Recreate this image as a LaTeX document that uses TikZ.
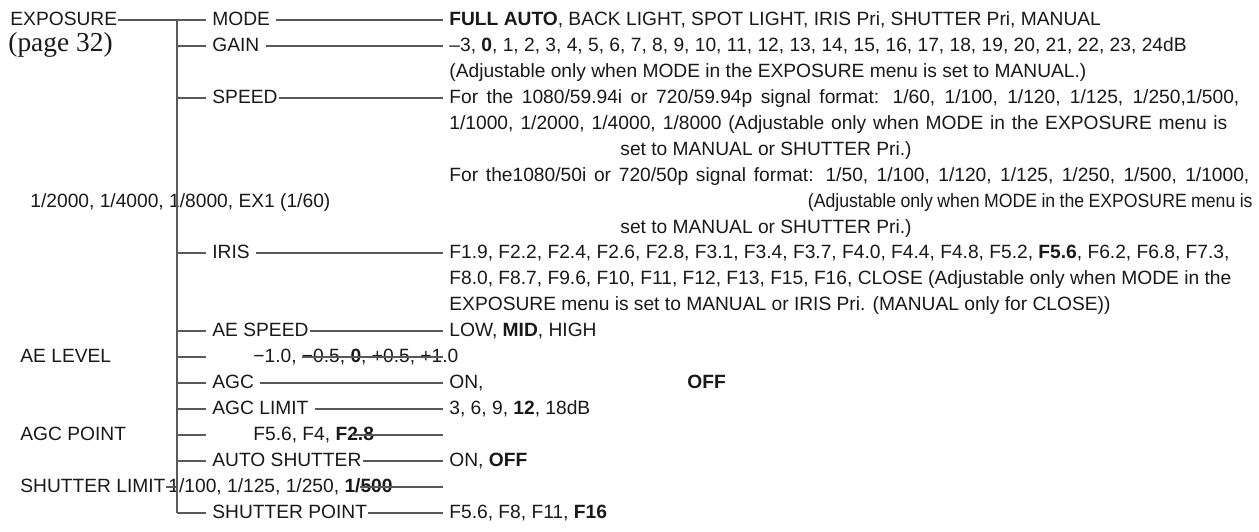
\documentclass[tikz,border=0pt]{standalone}
\usepackage{fontspec}
\setmainfont{Liberation Sans}
\newfontfamily\pagefont{Liberation Serif}

\begin{document}
\begin{tikzpicture}[x=0.5pt,y=-0.5pt,
  txt/.style={anchor=west,inner sep=3pt,text height=7pt,text depth=2pt,font=\fontsize{9.6}{11}\selectfont,text=black!90},
  menu node/.style={txt},
  value node/.style={txt},
  link/.style={draw=black!65,line width=0.6pt},
  tight/.style={shorten <=-2.5pt}]

\useasboundingbox (0,0) rectangle (1259,531);

% left column
\node[menu node](EXP) at (4,20) {EXPOSURE};
\node[txt,font=\fontsize{13.7}{15}\pagefont](PAGE) at (2,46) {(page 32)};
\node[txt](SPDL) at (24,202) {1/2000, 1/4000, 1/8000, EX1 (1/60)};
\node[menu node](AELV) at (14,357) {AE LEVEL};
\node[menu node](AGCP) at (14,435) {AGC POINT};
\node[menu node](SHTL) at (14,487) {SHUTTER LIMIT};

% trunk
\coordinate (T0) at (177,20);
\coordinate (T1) at (177,46);
\coordinate (T3) at (177,98);
\coordinate (T9) at (177,253);
\coordinate (T12) at (177,331);
\coordinate (T13) at (177,357);
\coordinate (T14) at (177,383);
\coordinate (T15) at (177,409);
\coordinate (T16) at (177,435);
\coordinate (T17) at (177,461);
\coordinate (T18) at (166,487);
\coordinate (T18b) at (177,487);
\coordinate (T19) at (177,513);

% menu items
\node[menu node](MODE) at (206,20) {MODE};
\node[menu node](GAIN) at (206,46) {GAIN};
\node[menu node](SPEED) at (206,98) {SPEED};
\node[menu node](IRIS) at (206,253) {IRIS};
\node[menu node](AESP) at (206,331) {AE SPEED};
\node[menu node](AGC) at (206,383) {AGC};
\node[menu node](AGCL) at (206,409) {AGC LIMIT};
\node[menu node](ASHT) at (206,461) {AUTO SHUTTER};
\node[menu node](SHTP) at (206,513) {SHUTTER POINT};
\coordinate (AELVs) at (206,357);
\coordinate (AGCPs) at (206,435);

% settings
\node[value node](vMODE) at (443,20) {\textbf{FULL AUTO}, BACK LIGHT, SPOT LIGHT, IRIS Pri, SHUTTER Pri, MANUAL};
\node[value node](vGAIN) at (443,46) {–3, \textbf{0}, 1, 2, 3, 4, 5, 6, 7, 8, 9, 10, 11, 12, 13, 14, 15, 16, 17, 18, 19, 20, 21, 22, 23, 24dB};
\node[value node](nGAIN) at (443,72) {(Adjustable only when MODE in the EXPOSURE menu is set to MANUAL.)};
\node[value node](vSPEED) at (443,98) {\makebox[395pt][s]{For the 1080/59.94i or 720/59.94p signal format: 1/60, 1/100, 1/120, 1/125, 1/250,1/500,}};
\node[value node](vSPEEDa) at (443,124) {\makebox[389pt][s]{1/1000, 1/2000, 1/4000, 1/8000 (Adjustable only when MODE in the EXPOSURE menu is}};
\node[value node](vSPEEDb) at (614,150) {set to MANUAL or SHUTTER Pri.)};
\node[value node](vSPEEDc) at (443,176) {\makebox[400pt][s]{For the1080/50i or 720/50p signal format: 1/50, 1/100, 1/120, 1/125, 1/250, 1/500, 1/1000,}};
\node[value node,anchor=east](vSPEEDd) at (1259,202) {\scalebox{0.92}[1]{\spaceskip=2.4pt (Adjustable only when MODE in the EXPOSURE menu is}};
\node[value node](vSPEEDe) at (614,228) {set to MANUAL or SHUTTER Pri.)};
\node[value node](vIRIS) at (443,253) {F1.9, F2.2, F2.4, F2.6, F2.8, F3.1, F3.4, F3.7, F4.0, F4.4, F4.8, F5.2, \textbf{F5.6}, F6.2, F6.8, F7.3,};
\node[value node](vIRISa) at (443,279) {F8.0, F8.7, F9.6, F10, F11, F12, F13, F15, F16, CLOSE (Adjustable only when MODE in the};
\node[value node](vIRISb) at (443,305) {EXPOSURE menu is set to MANUAL or IRIS Pri. (MANUAL only for CLOSE))};
\node[value node](vAESP) at (443,331) {LOW, \textbf{MID}, HIGH};
\node[value node](vAELV) at (247,357) {−1.0, −0.5, \textbf{0}, +0.5, +1.0};
\node[value node](vAGC) at (443,383) {ON,};
\node[value node](vAGCb) at (681,383) {\textbf{OFF}};
\node[value node](vAGCL) at (443,409) {3, 6, 9, \textbf{12}, 18dB};
\node[value node](vAGCP) at (247,435) {F5.6, F4, \textbf{F2.8}};
\node[value node](vASHT) at (443,461) {ON, \textbf{OFF}};
\node[value node](vSHTL) at (162,487) {1/100, 1/125, 1/250, \textbf{1/500}};
\node[value node](vSHTP) at (443,513) {F5.6, F8, F11, \textbf{F16}};

% ends of the lines that run through the text
\coordinate (AELVa) at (302,357);
\coordinate (AELVb) at (443,357);
\coordinate (AGCPa) at (352,435);
\coordinate (AGCPb) at (443,435);
\coordinate (SHTLa) at (360,487);
\coordinate (SHTLb) at (443,487);

\path[link]
(EXP) edge[tight] (T0)
(T0) edge (T19)
(T0) edge (MODE) (MODE) edge (vMODE)
(T1) edge (GAIN) (GAIN) edge (vGAIN)
(T3) edge (SPEED) (SPEED) edge[tight] (vSPEED)
(T9) edge (IRIS) (IRIS) edge (vIRIS)
(T12) edge (AESP) (AESP) edge[tight] (vAESP)
(T13) edge (AELVs) (AELVa) edge (AELVb)
(T14) edge (AGC) (AGC) edge (vAGC)
(T15) edge (AGCL) (AGCL) edge (vAGCL)
(T16) edge (AGCPs) (AGCPa) edge (AGCPb)
(T17) edge (ASHT) (ASHT) edge[tight] (vASHT)
(T18) edge (T18b) (SHTLa) edge (SHTLb)
(T19) edge (SHTP) (SHTP) edge[tight] (vSHTP);

\end{tikzpicture}
\end{document}
